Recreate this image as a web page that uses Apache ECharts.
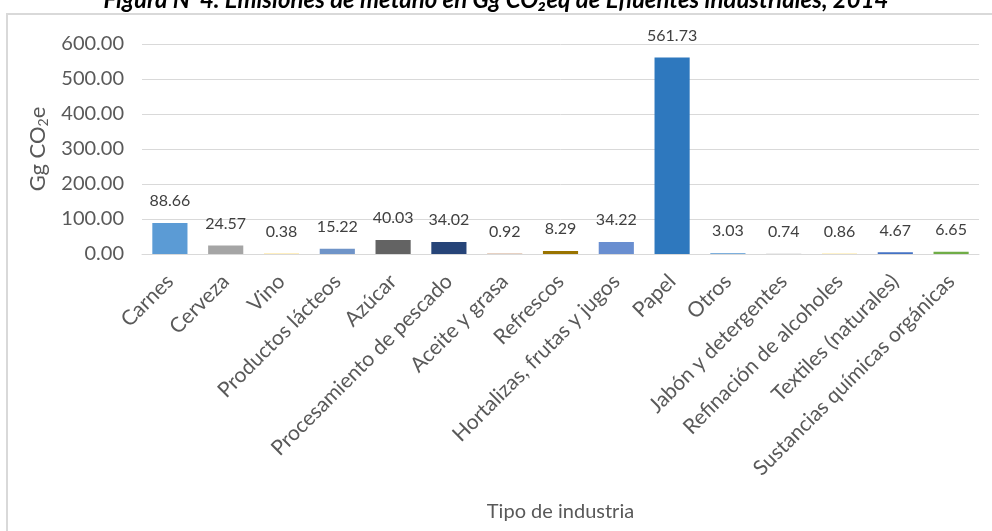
<!DOCTYPE html>
<html>
<head>
<meta charset="utf-8">
<script src="https://cdn.jsdelivr.net/npm/echarts@6/dist/echarts.min.js"></script>
<style>html,body{margin:0;padding:0;background:#fff}#c{width:992px;height:531px}</style>
</head>
<body>
<div id="c"></div>
<script>
const titleText = 'Figura N°4. Emisiones de metano en Gg CO₂eq de Efluentes industriales, 2014';
const categories = ['Carnes','Cerveza','Vino','Productos lácteos','Azúcar','Procesamiento de pescado','Aceite y grasa','Refrescos','Hortalizas, frutas y jugos','Papel','Otros','Jabón y detergentes','Refinación de alcoholes','Textiles (naturales)','Sustancias químicas orgánicas'];
const values = [88.66,24.57,0.38,15.22,40.03,34.02,0.92,8.29,34.22,561.73,3.03,0.74,0.86,4.67,6.65];
const barColors = ['#5B9BD5','#A5A5A5','#FFC000','#6F94C8','#636363','#264478','#9E480E','#997300','#698ED0','#2E78BE','#7CAFDD','#B7B7B7','#FFCD33','#4472C4','#70AD47'];
const yTicks = {min:0, max:600, interval:100};
const xAxisTitle = 'Tipo de industria';

const chart = echarts.init(document.getElementById('c'));
const font = 'Lato, "Open Sans", sans-serif';
chart.setOption({
  animation:false,
  backgroundColor:'#fff',
  title:{text:titleText,left:'center',top:-17,textStyle:{fontFamily:font,fontSize:24,fontWeight:'bold',fontStyle:'italic',color:'#000'}},
  graphic:[{type:'rect',shape:{x:7,y:14,width:1100,height:700},style:{fill:'none',stroke:'#D9D9D9',lineWidth:2},z:-1}],
  grid:{left:142,right:13,top:44,bottom:277},
  xAxis:{type:'category',data:categories,
    axisLine:{show:true,lineStyle:{color:'#D9D9D9'}},axisTick:{show:false},
    axisLabel:{rotate:45,interval:0,margin:24,fontFamily:font,fontSize:21,color:'#595959'},
    name:xAxisTitle,nameLocation:'middle',nameGap:248,nameTextStyle:{fontFamily:font,fontSize:20,color:'#595959'}},
  yAxis:{type:'value',min:yTicks.min,max:yTicks.max,interval:yTicks.interval,
    axisLine:{show:false},axisTick:{show:false},
    splitLine:{lineStyle:{color:'#D9D9D9',width:1}},
    axisLabel:{formatter:v=>v.toFixed(2),fontFamily:font,fontSize:20,color:'#595959',margin:18},
    name:'{a|Gg CO}{b|2}{a|e}',nameLocation:'middle',nameGap:92,nameRotate:90,
    nameTextStyle:{rich:{a:{fontFamily:font,fontSize:22,color:'#595959'},b:{fontFamily:font,fontSize:14,color:'#595959',padding:[10,0,0,0]}}}},
  series:[{type:'bar',data:values.map((v,i)=>({value:v,itemStyle:{color:barColors[i]}})),
    barWidth:'63%',
    label:{show:true,position:'top',distance:14,formatter:p=>p.value.toFixed(2),fontFamily:font,fontSize:16,color:'#404040'}}]
});
</script>
</body>
</html>
